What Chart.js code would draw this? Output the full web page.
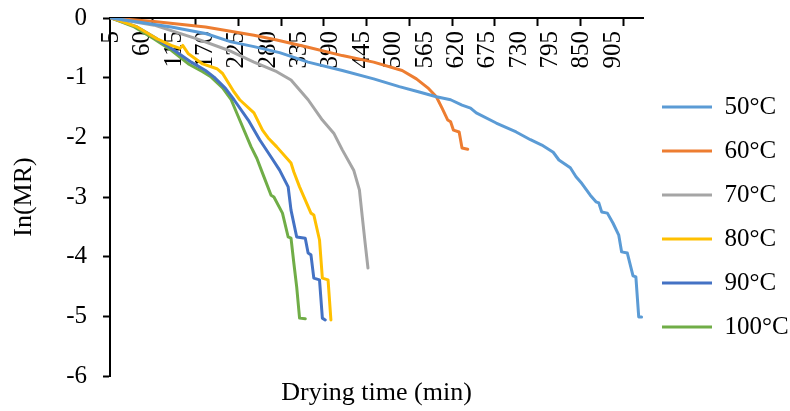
<!DOCTYPE html>
<html>
<head>
<meta charset="utf-8">
<script src="https://cdn.jsdelivr.net/npm/chart.js@4.4.1/dist/chart.umd.min.js"></script>
<style>
  html, body { margin: 0; padding: 0; background: #fff; }
  #wrap { width: 790px; height: 411px; }
</style>
</head>
<body>
<div id="wrap"><canvas id="chart" width="790" height="411"></canvas></div>
<script>
// drying time categories (min), as on the Excel category axis
const times = [
  5, 10, 15, 20, 25, 30, 35, 40, 45, 50,
  55, 60, 65, 70, 75, 80, 85, 90, 95, 100,
  105, 110, 115, 120, 125, 130, 135, 140, 145, 150,
  155, 160, 165, 170, 175, 180, 185, 190, 195, 200,
  205, 210, 215, 220, 225, 230, 235, 240, 245, 250,
  255, 260, 265, 270, 275, 280, 285, 290, 295, 300,
  305, 310, 315, 320, 325, 330, 335, 340, 345, 350,
  355, 360, 365, 370, 375, 380, 385, 390, 395, 400,
  405, 410, 415, 420, 425, 430, 435, 440, 445, 450,
  455, 460, 465, 470, 475, 480, 485, 490, 495, 500,
  505, 510, 515, 520, 525, 530, 535, 540, 545,
  555, 565,
  570, 575, 580, 585, 590, 595, 600, 605, 610, 615,
  620, 625, 630, 635, 640, 645, 650, 655, 660, 665,
  670, 675, 680, 685, 690, 695, 700, 705, 710, 715,
  720, 725, 730, 735, 740, 745, 750, 755, 760, 765,
  770, 775,
  785, 795,
  800, 805, 810, 815, 820, 825, 830, 835, 840, 845,
  850, 855, 860, 865, 870, 875, 880, 885, 890, 895,
  900, 905, 910, 915, 920, 925, 930, 935, 940, 945,
  950, 955
];

const yTicks = [0, -1, -2, -3, -4, -5, -6];

// ln(MR) readings per temperature (time in min, value)
const t50 = [5, 110, 170, 215, 255, 300, 350, 410, 465, 510, 545, 585, 610, 630, 645, 655, 690, 725, 750, 770,
             800, 810, 830, 840, 850, 865, 875, 880, 885, 895, 905, 915, 920, 930, 940, 945, 950, 955];
const ln50 = [0, -0.15, -0.26, -0.40, -0.48, -0.58, -0.74, -0.88, -1.02, -1.15, -1.24, -1.32, -1.37, -1.46, -1.51, -1.59, -1.76, -1.91, -2.04, -2.13,
              -2.25, -2.38, -2.51, -2.66, -2.77, -2.97, -3.08, -3.10, -3.25, -3.27, -3.44, -3.64, -3.92, -3.94, -4.32, -4.34, -5.01, -5.01];

const t60 = [5, 80, 170, 255, 295, 350, 410, 465, 515, 540, 570, 585, 595, 605, 610, 615, 625, 630, 640];
const ln60 = [0, -0.06, -0.15, -0.29, -0.37, -0.49, -0.63, -0.74, -0.88, -1.02, -1.17, -1.32, -1.51, -1.71, -1.74, -1.88, -1.91, -2.18, -2.20];

const t70 = [5, 80, 155, 210, 255, 295, 320, 350, 375, 395, 410, 430, 440, 445, 450, 455];
const ln70 = [0, -0.12, -0.35, -0.54, -0.74, -0.90, -1.04, -1.37, -1.71, -1.93, -2.21, -2.55, -2.88, -3.33, -3.77, -4.19];

const t80 = [5, 50, 85, 110, 125, 130, 140, 165, 190, 200, 220, 230, 255, 270, 280, 295, 320, 325, 335, 355, 360, 370, 375, 385, 390];
const ln80 = [0, -0.15, -0.35, -0.46, -0.51, -0.46, -0.60, -0.77, -0.85, -0.93, -1.24, -1.37, -1.59, -1.88, -2.01, -2.16, -2.43, -2.58, -2.83, -3.27, -3.30, -3.72, -4.36, -4.39, -5.06];

const t90 = [5, 50, 85, 115, 145, 170, 185, 205, 220, 245, 265, 285, 300, 315, 320, 330, 345, 350, 355, 360, 370, 375, 380];
const ln90 = [0, -0.15, -0.35, -0.54, -0.74, -0.88, -0.99, -1.18, -1.37, -1.71, -2.04, -2.33, -2.55, -2.83, -3.22, -3.67, -3.69, -3.94, -3.97, -4.36, -4.39, -5.03, -5.06];

const t100 = [5, 45, 80, 110, 140, 165, 180, 200, 215, 230, 250, 260, 270, 285, 290, 305, 315, 320, 325, 330, 335, 345];
const ln100 = [0, -0.15, -0.35, -0.54, -0.77, -0.90, -0.99, -1.17, -1.37, -1.71, -2.16, -2.35, -2.60, -2.97, -3.00, -3.27, -3.67, -3.69, -4.11, -4.51, -5.03, -5.04];

const seriesNames = ['50°C', '60°C', '70°C', '80°C', '90°C', '100°C'];
const seriesColors = ['#5B9BD5', '#ED7D31', '#A5A5A5', '#FFC000', '#4472C4', '#70AD47'];

const serif = "'Liberation Serif', 'Times New Roman', serif";
Chart.defaults.font.family = serif;
Chart.defaults.color = '#000';

function points(ts, vs) {
  return ts.map((t, i) => ({ x: t, y: vs[i] }));
}

const allSeries = [[t50, ln50], [t60, ln60], [t70, ln70], [t80, ln80], [t90, ln90], [t100, ln100]];

const datasets = allSeries.map((s, k) => ({
  label: seriesNames[k],
  data: points(s[0], s[1]),
  borderColor: seriesColors[k],
  backgroundColor: seriesColors[k],
  borderWidth: 3,
  pointRadius: 0,
  tension: 0,
  fill: false,
  borderJoinStyle: 'round',
  borderCapStyle: 'round'
}));

new Chart(document.getElementById('chart'), {
  type: 'line',
  data: { labels: times, datasets: datasets },
  options: {
    responsive: false,
    devicePixelRatio: 1,
    animation: false,
    layout: { padding: { left: 5, top: 18, right: 0, bottom: 0 } },
    plugins: {
      tooltip: { enabled: false },
      legend: {
        position: 'right',
        align: 'start',
        maxWidth: 147,
        title: { display: true, text: ' ', font: { size: 10, lineHeight: 1 }, padding: { top: 47.5, bottom: 0 } },
        labels: {
          usePointStyle: true,
          pointStyle: 'line',
          pointStyleWidth: 50,
          boxHeight: 3,
          padding: 19,
          font: { size: 25 },
          color: '#000'
        }
      }
    },
    scales: {
      x: {
        type: 'category',
        position: { y: 0 },
        offset: true,
        grid: {
          offset: true,
          drawOnChartArea: false,
          tickLength: 7,
          tickWidth: 2,
          tickColor: ctx => (ctx.index > 0 && ctx.index % 15 === 0) ? '#000' : 'rgba(0,0,0,0)'
        },
        border: { color: '#000', width: 2 },
        ticks: {
          autoSkip: false,
          minRotation: 90,
          maxRotation: 90,
          padding: 6,
          font: { size: 25 },
          color: '#000',
          callback: (v, i) => (i % 11 === 0 ? String(times[i]) : '')
        }
      },
      xTitle: {
        type: 'linear',
        axis: 'x',
        position: 'bottom',
        grid: { display: false, drawTicks: false },
        border: { display: false },
        ticks: { display: false },
        title: { display: true, text: 'Drying time (min)', font: { size: 26 }, color: '#000', padding: { top: 1.8, bottom: 2 } }
      },
      y: {
        type: 'linear',
        min: yTicks[yTicks.length - 1],
        max: yTicks[0],
        afterBuildTicks: axis => { axis.ticks = yTicks.map(v => ({ value: v })); },
        // labels of 0 and -6 may hang over the plot edges, like Excel does
        afterFit: axis => { axis.paddingTop = 0; axis.paddingBottom = 0; },
        grid: { drawOnChartArea: false, tickLength: 7, tickWidth: 2, tickColor: '#000' },
        border: { color: '#000', width: 2 },
        ticks: { padding: 16, font: { size: 25 }, color: '#000' },
        title: { display: true, text: 'In(MR)', font: { size: 26 }, color: '#000', padding: { top: 4, bottom: 10 } }
      }
    }
  }
});
</script>
</body>
</html>
